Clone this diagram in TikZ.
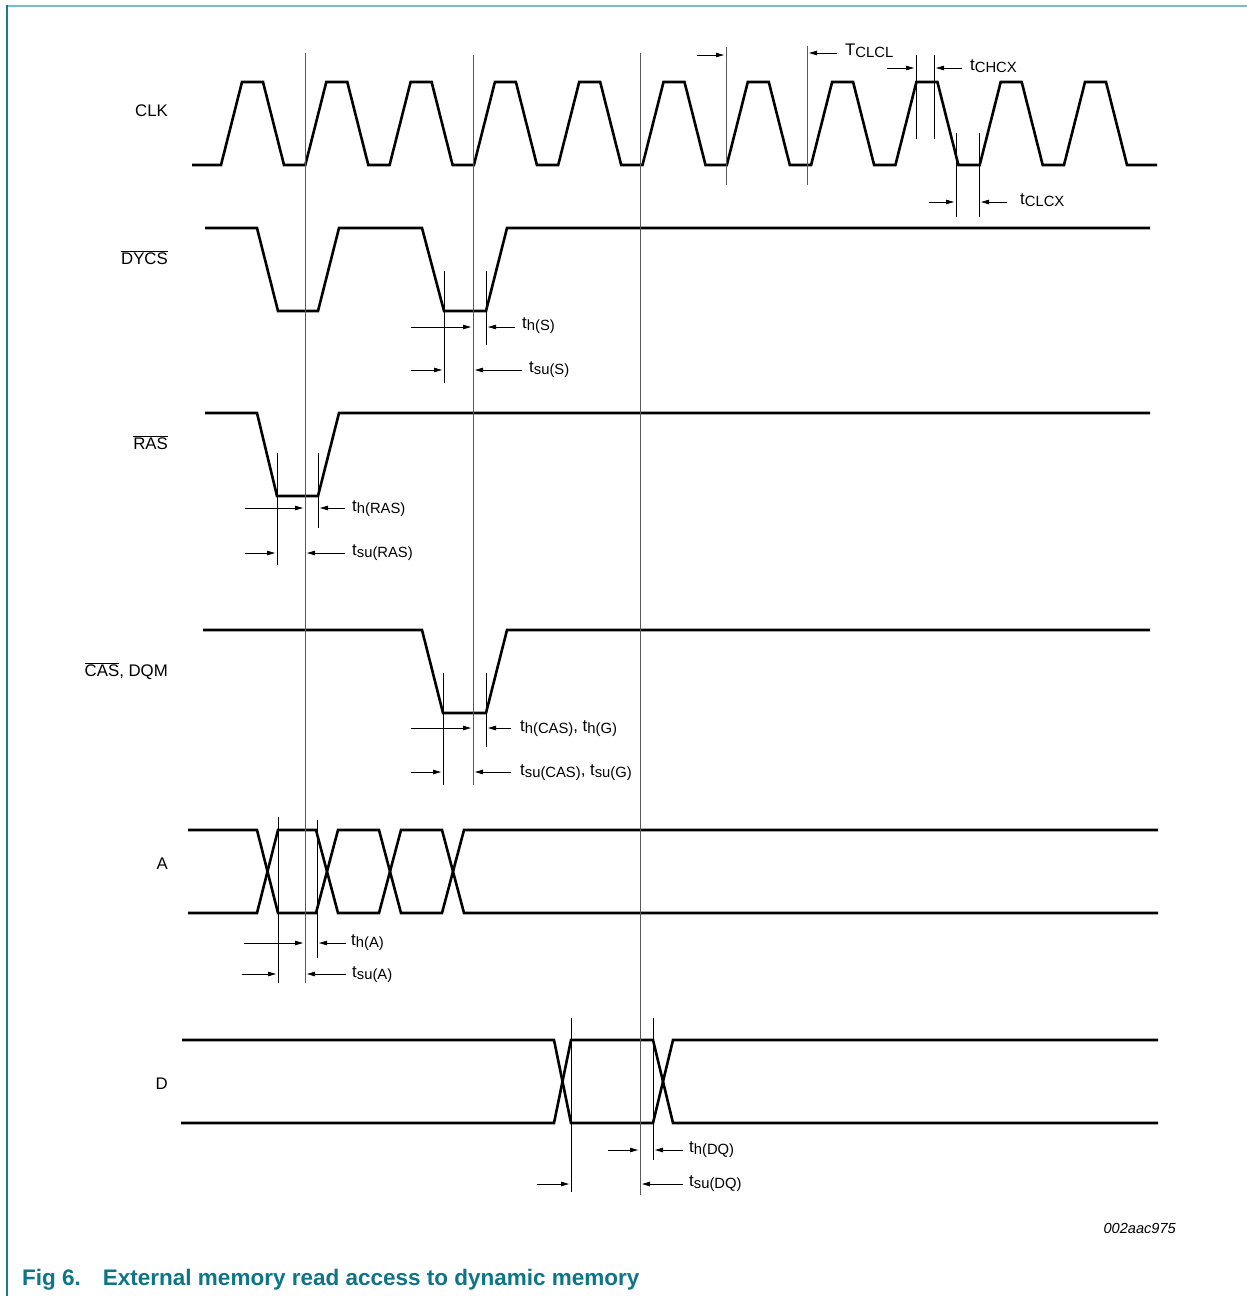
\documentclass[tikz,border=0pt]{standalone}
\usepackage{fontspec}
\setmainfont{Liberation Sans}
\usetikzlibrary{arrows.meta}
\definecolor{capcol}{HTML}{0E7488}
\definecolor{framelt}{HTML}{7DB9C9}
\definecolor{framedk}{HTML}{1B7A8C}
\newcommand{\tlab}[2]{#1\raisebox{-0.32ex}{\fontsize{14.8}{15}\selectfont #2}}
\begin{document}
\begin{tikzpicture}[x=1pt,y=-1pt,
  sig/.style={line width=2.6pt,line join=miter,black},
  refl/.style={line width=0.9pt,black!65},
  mk/.style={line width=0.8pt,black},
  dimarr/.style={line width=0.8pt,-{Triangle[length=8pt,width=4.5pt]}},
  siglab/.style={anchor=east,font=\fontsize{16.8}{20}\selectfont,inner sep=0pt},
  tlabel/.style={anchor=base west,font=\fontsize{16.8}{20}\selectfont,inner sep=0pt}]
\useasboundingbox (0,0) rectangle (1247,1296);
% frame
\draw[framelt,line width=2pt] (7,6) -- (1247,6);
\draw[framedk,line width=1.3pt] (7,5) -- (7,1296);

% signal labels
\node[siglab] (lclk) at (168,111) {CLK};
\node[siglab] (ldycs) at (168,258) {$\overline{\mbox{DYCS}}$};
\node[siglab] (lras) at (168,443) {$\overline{\mbox{RAS}}$};
\node[siglab] (lcas) at (168,671) {$\overline{\mbox{CAS}}$, DQM};
\node[siglab] (la) at (168,864) {A};
\node[siglab] (ld) at (168,1084) {D};

% CLK
\draw[sig] (192,165) \foreach \i in {0,...,10} { -- ({221+84.3*\i},165) -- ({242+84.3*\i},82) -- ({263+84.3*\i},82) -- ({284+84.3*\i},165) } -- (1157,165);

% DYCS
\draw[sig] (205,228) -- (257,228) -- (278,311) -- (318,311) -- (339,228) -- (422,228) -- (444,311) -- (486,311) -- (507,228) -- (1150,228);
% RAS
\draw[sig] (205,413) -- (257,413) -- (277,496) -- (318,496) -- (339,413) -- (1150,413);
% CAS
\draw[sig] (203,630) -- (422,630) -- (443,713) -- (486,713) -- (507,630) -- (1150,630);
% A
\draw[sig] (188,830) -- (257,830) -- (278,913) -- (316,913) -- (338,830) -- (379,830) -- (401,913) -- (442,913) -- (464,830) -- (1158,830);
\draw[sig] (188,913) -- (257,913) -- (278,830) -- (316,830) -- (338,913) -- (379,913) -- (401,830) -- (442,830) -- (464,913) -- (1158,913);
% D
\draw[sig] (182,1040) -- (554,1040) -- (571,1123) -- (653,1123) -- (673,1040) -- (1158,1040);
\draw[sig] (181,1123) -- (554,1123) -- (571,1040) -- (653,1040) -- (673,1123) -- (1158,1123);

% reference lines
\draw[refl] (305,53) -- (305,983);
\draw[refl] (473,55) -- (473,785);
\draw[refl] (640,53) -- (640,1195);
\draw[refl] (726,47) -- (726,185);
\draw[refl] (807,46) -- (807,185);

% marker lines
\draw[mk] (916,55) -- (916,139);
\draw[mk] (934,55) -- (934,139);
\draw[mk] (956,133) -- (956,217);
\draw[mk] (979,133) -- (979,217);
\draw[mk] (444,271) -- (444,383);
\draw[mk] (486,271) -- (486,345);
\draw[mk] (277,453) -- (277,565);
\draw[mk] (318,453) -- (318,528);
\draw[mk] (443,673) -- (443,785);
\draw[mk] (486,673) -- (486,747);
\draw[mk] (278,817) -- (278,983);
\draw[mk] (317,820) -- (317,958);
\draw[mk] (571,1018) -- (571,1192);
\draw[mk] (653,1018) -- (653,1160);

% CLK timing
\draw[dimarr] (697,55) -- (724,55);
\draw[dimarr] (837,53) -- (809,53);
\node[tlabel] (tclcl) at (845,55) {\tlab{T}{CLCL}};
\draw[dimarr] (887,68) -- (914,68);
\draw[dimarr] (962,68) -- (936,68);
\node[tlabel] (tchcx) at (970,70) {\tlab{t}{CHCX}};
\draw[dimarr] (929,202) -- (954,202);
\draw[dimarr] (1007,202) -- (981,202);
\node[tlabel] (tclcx) at (1020,204) {\tlab{t}{CLCX}};

% DYCS timing
\draw[dimarr] (411,327) -- (471,327);
\draw[dimarr] (515,327) -- (488,327);
\node[tlabel] (ths) at (522,328) {\tlab{t}{h(S)}};
\draw[dimarr] (411,370) -- (442,370);
\draw[dimarr] (522,370) -- (475,370);
\node[tlabel] (tsus) at (529,372) {\tlab{t}{su(S)}};

% RAS timing
\draw[dimarr] (245,508) -- (303,508);
\draw[dimarr] (345,508) -- (320,508);
\node[tlabel] (thras) at (352,511) {\tlab{t}{h(RAS)}};
\draw[dimarr] (245,553) -- (275,553);
\draw[dimarr] (345,553) -- (307,553);
\node[tlabel] (tsuras) at (352,555) {\tlab{t}{su(RAS)}};

% CAS timing
\draw[dimarr] (411,728) -- (471,728);
\draw[dimarr] (511,728) -- (488,728);
\node[tlabel] (thcas) at (520,731) {\tlab{t}{h(CAS)}, \tlab{t}{h(G)}};
\draw[dimarr] (411,772) -- (441,772);
\draw[dimarr] (511,772) -- (475,772);
\node[tlabel] (tsucas) at (520,775) {\tlab{t}{su(CAS)}, \tlab{t}{su(G)}};

% A timing
\draw[dimarr] (244,943) -- (303,943);
\draw[dimarr] (346,943) -- (319,943);
\node[tlabel] (tha) at (351,945) {\tlab{t}{h(A)}};
\draw[dimarr] (242,974) -- (276,974);
\draw[dimarr] (346,974) -- (307,974);
\node[tlabel] (tsua) at (352,977) {\tlab{t}{su(A)}};

% D timing
\draw[dimarr] (608,1150) -- (638,1150);
\draw[dimarr] (683,1150) -- (655,1150);
\node[tlabel] (thdq) at (689,1152) {\tlab{t}{h(DQ)}};
\draw[dimarr] (537,1184) -- (569,1184);
\draw[dimarr] (683,1184) -- (642,1184);
\node[tlabel] (tsudq) at (689,1186) {\tlab{t}{su(DQ)}};

% figure id and caption
\node[anchor=base east,inner sep=0pt,font=\fontsize{14.6}{16}\selectfont\itshape] (fid) at (1176,1233) {002aac975};
\node[anchor=base west,inner sep=0pt,text=capcol,font=\fontsize{22.5}{26}\selectfont\bfseries] (cap) at (22,1285) {Fig 6.\hspace{22pt}External memory read access to dynamic memory};
\end{tikzpicture}
\end{document}
